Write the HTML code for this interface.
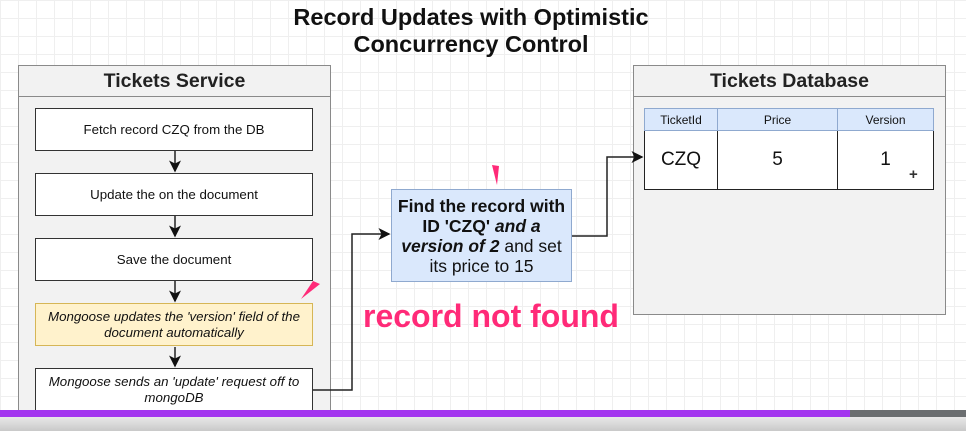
<!DOCTYPE html>
<html style="overflow:hidden;height:431px"><head><meta charset="utf-8"><style>
*{box-sizing:border-box;margin:0;padding:0}
body{width:966px;height:431px;overflow:hidden;position:relative;font-family:"Liberation Sans",sans-serif;color:#111;
background-color:#fff;background-image:linear-gradient(#efefef 1px,transparent 1px),linear-gradient(90deg,#efefef 1px,transparent 1px);background-size:18px 18px}
.abs{position:absolute}
.panel{background:#f2f2f2;border:1.5px solid #8a8a8a}
.hdr{position:absolute;left:0;right:0;top:0;height:31px;border-bottom:1.5px solid #8a8a8a;font-weight:bold;font-size:19.5px;text-align:center;line-height:30px;color:#222}
.box{position:absolute;left:35px;width:278px;height:43px;background:#fff;border:1.5px solid #333;font-size:13.3px;display:flex;align-items:center;justify-content:center;text-align:center;line-height:16px}
.it{font-style:italic}
td{border:1.5px solid #222;text-align:center}
</style></head><body>
<div class="abs" style="left:0;width:942px;top:4px;text-align:center;font-weight:bold;font-size:23.5px;line-height:27px">Record Updates with Optimistic<br>Concurrency Control</div>

<div class="abs panel" style="left:18px;top:65px;width:313px;height:366px">
<div class="hdr">Tickets Service</div></div>
<div class="box" style="top:108px">Fetch record CZQ from the DB</div>
<div class="box" style="top:173px">Update the on the document</div>
<div class="box" style="top:238px">Save the document</div>
<div class="box it" style="top:303px;background:#fff2cc;border-color:#d6b656">Mongoose updates the 'version' field of the<br>document automatically</div>
<div class="box it" style="top:368px">Mongoose sends an 'update' request off to<br>mongoDB</div>

<div class="abs" style="left:391px;top:189px;width:181px;height:93px;background:#dae8fc;border:1.5px solid #8fa9cf;font-size:17.5px;line-height:20px;text-align:center;padding-top:6px;white-space:nowrap"><b>Find the record with<br>ID 'CZQ' <i>and a<br>version of 2</i></b> and set<br>its price to 15</div>

<div class="abs" style="left:363px;top:298px;font-size:32px;font-weight:bold;color:#ff2a78;text-shadow:1px 1px 2px #fff,-1px -1px 2px #fff">record not found</div>

<div class="abs panel" style="left:633px;top:65px;width:313px;height:250px">
<div class="hdr">Tickets Database</div></div>
<table class="abs" style="left:644px;top:108px;width:290px;border-collapse:collapse">
<tr style="height:22px;background:#dae8fc;font-size:12px"><td style="width:73px;border-color:#8fa9cf">TicketId</td><td style="width:120px;border-color:#8fa9cf">Price</td><td style="border-color:#8fa9cf">Version</td></tr>
<tr style="height:59px;background:#fff;font-size:19px"><td>CZQ</td><td>5</td><td>1</td></tr></table>

<svg class="abs" style="left:0;top:0" width="966" height="431">
<defs><marker id="a" markerWidth="8" markerHeight="8" refX="7" refY="4" orient="auto"><path d="M0,0L8,4L0,8L2,4z" fill="#111"/></marker></defs>
<g stroke="#222" stroke-width="1.5" fill="none">
<path d="M175 151V171" marker-end="url(#a)"/><path d="M175 216V236" marker-end="url(#a)"/>
<path d="M175 281V301" marker-end="url(#a)"/><path d="M175 347V366" marker-end="url(#a)"/>
<path d="M313 390H352V234H389" marker-end="url(#a)"/>
<path d="M572 236H607V157H642" marker-end="url(#a)"/>
</g>
<path d="M492 165L499 166L497 185Z" fill="#ff2a78"/>
<path d="M320 284L313 281L301 299Z" fill="#ff2a78"/>
<text x="909" y="179" font-size="15" font-weight="bold" fill="#333">+</text>
</svg>

<div class="abs" style="left:0;top:410px;width:850px;height:7px;background:#a335ef"></div>
<div class="abs" style="left:850px;top:410px;width:116px;height:7px;background:#6b6e70"></div>
<div class="abs" style="left:0;top:417px;width:966px;height:14px;background:linear-gradient(#e8e8e8,#c9c9c9)"></div>
</body></html>
